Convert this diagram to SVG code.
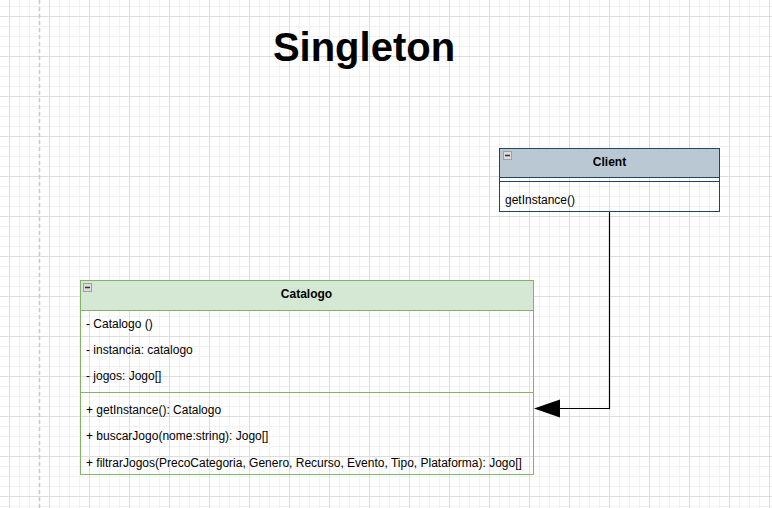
<svg xmlns="http://www.w3.org/2000/svg" width="772" height="508" viewBox="0 0 772 508">
<defs>
<pattern id="grid" x="9" y="16" width="40" height="40" patternUnits="userSpaceOnUse">
<path d="M10.5 0V40M20.5 0V40M30.5 0V40M0 10.5H40M0 20.5H40M0 30.5H40" stroke="#f2f2f2" stroke-width="1" fill="none"/>
<path d="M0.5 0V40M0 0.5H40" stroke="#dddddd" stroke-width="1" fill="none"/>
</pattern>
<marker id="arrow" markerWidth="26" markerHeight="18" refX="0" refY="9" orient="auto-start-reverse" markerUnits="userSpaceOnUse">
<path d="M0 9L26 0L26 18Z" fill="#000"/>
</marker>
</defs>
<style>
text{font-family:"Liberation Sans",Arial,Helvetica,sans-serif;font-size:12px;fill:#000}
.hd{font-weight:bold;text-anchor:middle}
.title{font-size:40px;font-weight:bold;text-anchor:middle}
.icon{fill:#dcdcdc;stroke:#a0a0a0;stroke-width:1}
.minus{stroke:#333;stroke-width:1.5}
</style>
<rect width="772" height="508" fill="#ffffff"/>
<rect width="772" height="508" fill="url(#grid)"/>
<line x1="39.5" y1="0" x2="39.5" y2="508" stroke="#c8c8c8" stroke-width="1.5" stroke-dasharray="4 3"/>
<text class="title" x="364" y="61">Singleton</text>
<g id="connectors">
<path d="M609.5 211.5V408.5H560" fill="none" stroke="#000" stroke-width="1.2"/>
<path d="M534 408.5L560 399.5L560 417.5Z" fill="#000"/>
</g>
<g id="client">
<rect x="499.5" y="148.5" width="220" height="29" fill="#bac8d3" stroke="#23445d"/>
<rect x="499.5" y="177.5" width="220" height="34" fill="none" stroke="#23445d"/>
<line x1="499.5" y1="181.5" x2="719.5" y2="181.5" stroke="#23445d"/>
<rect class="icon" x="503.5" y="151.5" width="8" height="8"/>
<line class="minus" x1="505" y1="155.5" x2="510" y2="155.5"/>
<text class="hd" x="609.5" y="166">Client</text>
<text x="505" y="203.5">getInstance()</text>
</g>
<g id="catalogo">
<rect x="80.5" y="280.5" width="453" height="30" fill="#d5e8d4" stroke="#82b366"/>
<rect x="80.5" y="310.5" width="453" height="164" fill="none" stroke="#82b366"/>
<line x1="80.5" y1="392.5" x2="533.5" y2="392.5" stroke="#82b366"/>
<rect class="icon" x="83.5" y="283.5" width="8" height="8"/>
<line class="minus" x1="85" y1="287.5" x2="90" y2="287.5"/>
<text class="hd" x="306.5" y="298">Catalogo</text>
<text x="86" y="327.5">- Catalogo ()</text>
<text x="86" y="354">- instancia: catalogo</text>
<text x="86" y="380">- jogos: Jogo[]</text>
<text x="86" y="413.5">+ getInstance(): Catalogo</text>
<text x="86" y="440">+ buscarJogo(nome:string): Jogo[]</text>
<text x="86" y="466.5">+ filtrarJogos(PrecoCategoria, Genero, Recurso, Evento, Tipo, Plataforma): Jogo[]</text>
</g>
</svg>
